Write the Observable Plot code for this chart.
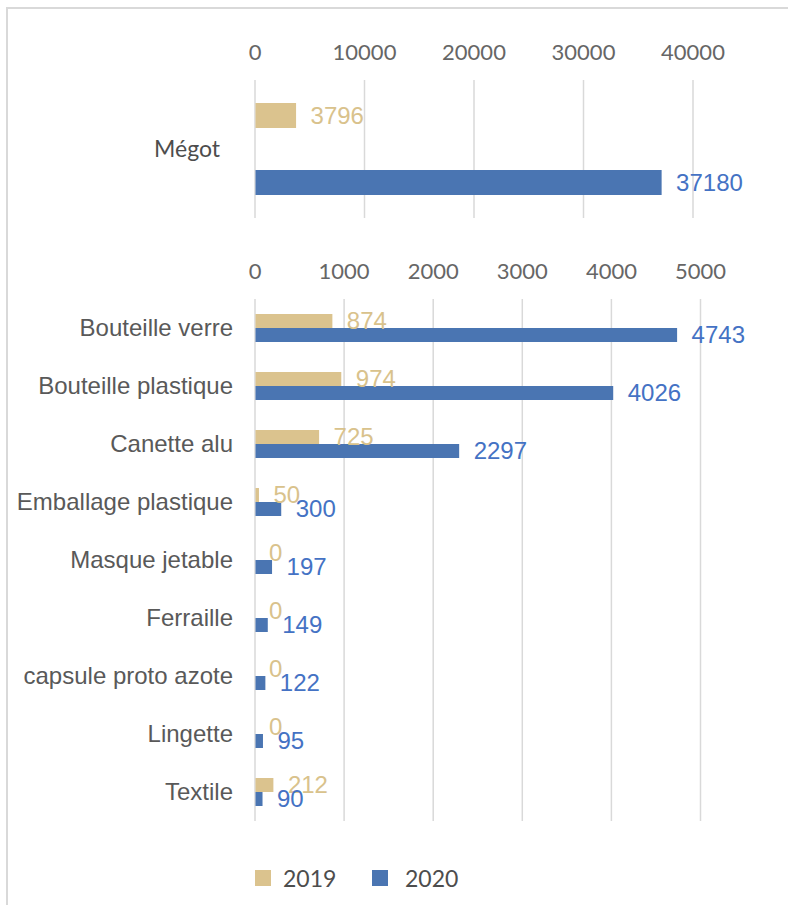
<!DOCTYPE html>
<html>
<head>
<meta charset="utf-8">
<script src="https://cdn.jsdelivr.net/npm/d3@7"></script>
<script src="https://cdn.jsdelivr.net/npm/@observablehq/plot@0.6"></script>
<style>
  html, body { margin: 0; padding: 0; background: #fff; }
  #wrap { position: relative; width: 788px; height: 905px; overflow: hidden; }
  #frame { position: absolute; left: 6px; top: 7px; width: 900px; height: 1000px; border-left: 2px solid #d9d9d9; border-top: 2px solid #d9d9d9; }
  #top { position: absolute; left: 0; top: 0; }
  #bottom { position: absolute; left: 0; top: 240px; }
  #top svg, #bottom svg { display: block; }
  .leg { position: absolute; top: 862px; font-family: Lato, sans-serif; font-weight: 400; font-size: 23px; color: #4d4d4d; line-height: 32px; }
  .sw { position: absolute; width: 16px; height: 16px; top: 870px; }
</style>
</head>
<body>
<div id="wrap">
  <div id="frame"></div>
  <div id="top"></div>
  <div id="bottom"></div>
  <div id="legend"></div>
</div>
<script>
// ---- data ----
const years = ["2019", "2020"];
const topCategories = ["Mégot"];
const top2019 = [3796];
const top2020 = [37180];
const categories = ["Bouteille verre", "Bouteille plastique", "Canette alu", "Emballage plastique", "Masque jetable", "Ferraille", "capsule proto azote", "Lingette", "Textile"];
const values2019 = [874, 974, 725, 50, 0, 0, 0, 0, 212];
const values2020 = [4743, 4026, 2297, 300, 197, 149, 122, 95, 90];
const topTicks = [0, 10000, 20000, 30000, 40000];
const bottomTicks = [0, 1000, 2000, 3000, 4000, 5000];

// ---- styles ----
const barColors = ["#DBC38E", "#4A75B2"];
const textColors = {"2019": "#D9C28C", "2020": "#4472C4"};
const grid = "#d9d9d9";
const arial = "'Liberation Sans', Arial, sans-serif";
const lato = "Lato, sans-serif";

function rows(cats, a, b) {
  const out = [];
  cats.forEach((c, i) => {
    out.push({cat: c, year: "2019", value: a[i]});
    out.push({cat: c, year: "2020", value: b[i]});
  });
  return out;
}
const topRows = rows(topCategories, top2019, top2020);
const bottomRows = rows(categories, values2019, values2020);

function panel({data, cats, ticks, domainMax, height, marginTop, marginBottom, marginRight, yPadInner, yPadOuter, fyPad, fyFont, fyColor, fySize}) {
  return Plot.plot({
    width: 788,
    height,
    marginLeft: 254.5,
    marginRight,
    marginTop,
    marginBottom,
    style: {fontFamily: arial, fontSize: "24px", color: "#595959", background: "transparent", overflow: "visible"},
    x: {domain: [0, domainMax], axis: null},
    y: {domain: years, axis: null, paddingInner: yPadInner, paddingOuter: yPadOuter},
    fy: {domain: cats, padding: 0, axis: null},
    color: {domain: years, range: barColors},
    marks: [
      Plot.gridX(ticks, {stroke: grid, strokeOpacity: 1, strokeWidth: 1.5}),
      Plot.axisX(ticks, {anchor: "top", tickSize: 0, tickPadding: 21, tickFormat: d3.format("d"), label: null, fontSize: 22, fontFamily: lato, fontWeight: 400, fill: "#666666"}),
      Plot.axisFy({anchor: "left", tickSize: 0, tickPadding: fyPad, label: null, fontSize: fySize, fontFamily: fyFont, fontWeight: 400, fill: fyColor}),
      Plot.barX(data, {x: "value", y: "year", fy: "cat", fill: "year", insetLeft: 1}),
      Plot.text(data, {x: "value", y: "year", fy: "cat", text: d => String(d.value), fill: d => textColors[d.year], textAnchor: "start", dx: 14, fontSize: 24})
    ]
  });
}

document.getElementById("top").appendChild(panel({
  data: topRows, cats: topCategories, ticks: topTicks, domainMax: 40000,
  height: 240, marginTop: 80, marginBottom: 22, marginRight: 95.5,
  yPadInner: 0.632, yPadOuter: 0.338, fyPad: 35, fyFont: lato, fyColor: "#4d4d4d", fySize: 23
}));
document.getElementById("bottom").appendChild(panel({
  data: bottomRows, cats: categories, ticks: bottomTicks, domainMax: 5000,
  height: 600, marginTop: 55, marginBottom: 16, marginRight: 88,
  yPadInner: 0, yPadOuter: 0.96, fyPad: 22, fyFont: arial, fyColor: "#595959", fySize: 24
}));

// legend
const legend = document.getElementById("legend");
const legX = [{sw: 255, tx: 283}, {sw: 372, tx: 405}];
years.forEach((y, i) => {
  const s = document.createElement("div");
  s.className = "sw";
  s.style.left = legX[i].sw + "px";
  s.style.background = barColors[i];
  legend.appendChild(s);
  const t = document.createElement("div");
  t.className = "leg";
  t.style.left = legX[i].tx + "px";
  t.textContent = y;
  legend.appendChild(t);
});
</script>
</body>
</html>
